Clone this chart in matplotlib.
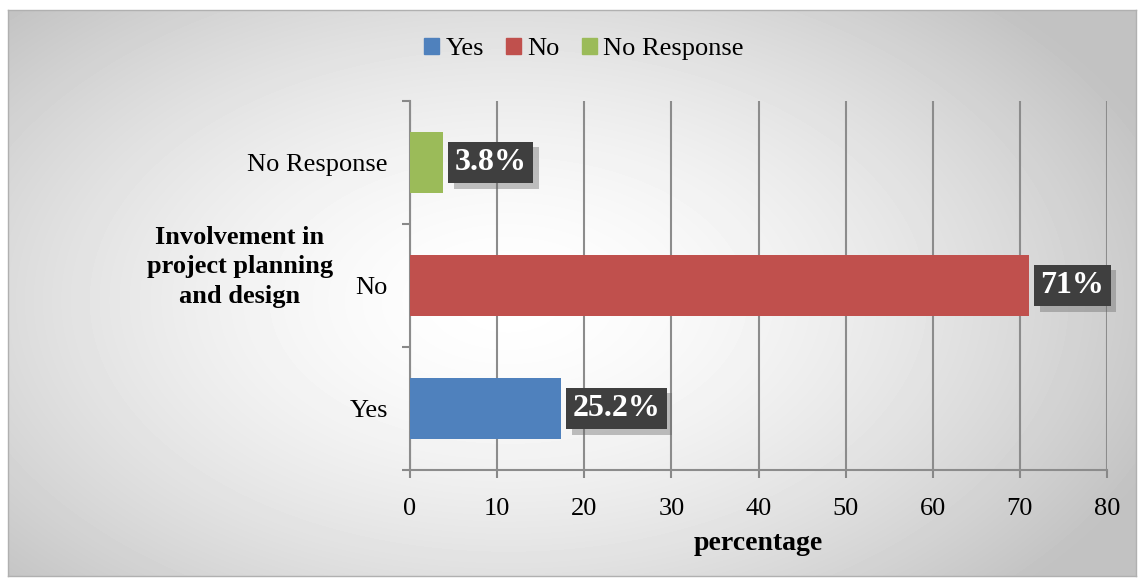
import matplotlib.pyplot as plt
import matplotlib.patheffects as pe
import numpy as np

categories = ['Yes', 'No', 'No Response']
bar_values = [17.3, 71.0, 3.8]
bar_labels = ['25.2%', '71%', '3.8%']
colors = ['#4f81bd', '#c0504d', '#9bbb59']
x_ticks = [0, 10, 20, 30, 40, 50, 60, 70, 80]

plt.rcParams['font.family'] = ['Liberation Serif', 'DejaVu Serif']

fig = plt.figure(figsize=(11.41, 5.79), dpi=100)

# radial grey background inside a thin frame
bg = fig.add_axes([8 / 1141, 1 - 576 / 579, 1128 / 1141, 566 / 579])
yy, xx = np.mgrid[0:566, 0:1128]
r = np.sqrt(((xx - 500) / 700.0) ** 2 + ((yy - 290) / 420.0) ** 2)
shade = 1.0 - 0.24 * np.clip(r, 0, 1) ** 1.6
bg.imshow(shade, cmap='gray', vmin=0, vmax=1, aspect='auto')
bg.set_xticks([])
bg.set_yticks([])
for s in bg.spines.values():
    s.set_color('#b0b0b0')
    s.set_linewidth(1)

ax = fig.add_axes([410 / 1141, 1 - 470 / 579, 697 / 1141, 369 / 579])
ax.patch.set_alpha(0)
ypos = np.arange(len(categories))
ax.barh(ypos, bar_values, height=0.5, color=colors, zorder=3)

ax.set_xlim(0, 80)
ax.set_ylim(-0.5, 2.5)
ax.set_xticks(x_ticks)
ax.set_xticklabels([str(v) for v in x_ticks], fontsize=19)
ax.set_yticks(ypos)
ax.set_yticklabels(categories, fontsize=19)
ax.set_yticks([-0.5, 0.5, 1.5, 2.5], minor=True)
ax.tick_params(axis='y', which='major', length=0, pad=16)
ax.tick_params(axis='y', which='minor', length=6, color='#888888', width=1.5, direction='out')
ax.tick_params(axis='x', length=6, color='#888888', width=1.5, pad=14)
ax.xaxis.grid(True, color='#8c8c8c', linewidth=1.5, zorder=0)
for side in ['top', 'right']:
    ax.spines[side].set_visible(False)
for side in ['left', 'bottom']:
    ax.spines[side].set_color('#8c8c8c')
    ax.spines[side].set_linewidth(1.5)

ax.set_xlabel('percentage', fontsize=20, fontweight='bold', labelpad=8)

for y, v, lab in zip(ypos, bar_values, bar_labels):
    t = ax.text(v + 1.35, y, lab, color='white', fontsize=23, fontweight='bold',
                va='center', ha='left', zorder=5,
                bbox=dict(boxstyle='square,pad=0.2', fc='#3f3f3f', ec='none'))
    t.get_bbox_patch().set_path_effects([
        pe.SimplePatchShadow(offset=(4, -4), shadow_rgbFace='#666666', alpha=0.4),
        pe.Normal()])

fig.text(240 / 1141, 1 - 267 / 579, 'Involvement in\nproject planning\nand design',
         ha='center', va='center', fontsize=19, fontweight='bold', linespacing=1.35)

handles = [plt.Rectangle((0, 0), 1, 1, color=c) for c in colors]
fig.legend(handles, categories, loc='center', bbox_to_anchor=(584 / 1141, 1 - 49 / 579),
           ncol=3, frameon=False, fontsize=19, handlelength=0.55, handleheight=0.55,
           handletextpad=0.25, columnspacing=0.85)

fig.savefig('out.png', dpi=100)
